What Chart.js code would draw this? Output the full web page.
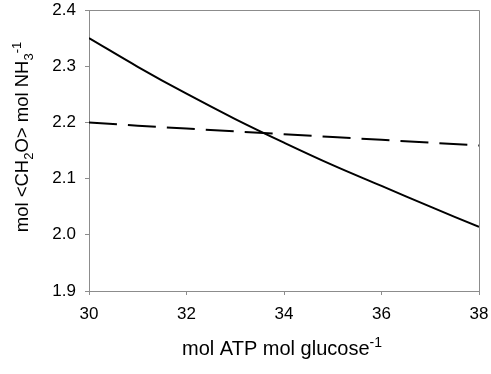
<!DOCTYPE html>
<html>
<head>
<meta charset="utf-8">
<script src="https://cdn.jsdelivr.net/npm/chart.js@4"></script>
<style>
  html, body { margin: 0; padding: 0; background: #fff; }
  #wrap { width: 491px; height: 374px; }
</style>
</head>
<body>
<div id="wrap"><canvas id="atp_chart" width="491" height="374"></canvas></div>
<script>
// values
const atp_values = [30, 31, 32, 33, 34, 35, 36, 37, 38];
const solid_values = [2.350, 2.299, 2.251, 2.206, 2.164, 2.124, 2.087, 2.050, 2.014];
const dashed_values = [2.200, 2.194, 2.189, 2.184, 2.179, 2.174, 2.169, 2.164, 2.159];
const x_ticks = [30, 32, 34, 36, 38];
const y_ticks = [1.9, 2.0, 2.1, 2.2, 2.3, 2.4];

const axis_grey = "#8c8c8c";
const font_family = "'Liberation Sans', Arial, sans-serif";

// titles with sub/superscripts, drawn as pieces
const x_title = [{ t: "mol ATP mol glucose" }, { t: "-1", sup: true }];
const y_title = [
  { t: "mol <CH" }, { t: "2", sub: true }, { t: "O> mol NH" },
  { t: "3", sub: true }, { t: "-1", sup: true }
];

function setFont(ctx, p, size) {
  ctx.font = (p.sup || p.sub ? Math.round(size * 0.68) : size) + "px " + font_family;
}

function drawRich(ctx, parts, size) {
  let total = 0;
  parts.forEach(p => { setFont(ctx, p, size); total += ctx.measureText(p.t).width; });
  let x = -total / 2;
  parts.forEach(p => {
    setFont(ctx, p, size);
    const dy = p.sup ? -size * 0.4 : (p.sub ? size * 0.25 : 0);
    ctx.fillText(p.t, x, dy);
    x += ctx.measureText(p.t).width;
  });
}

const framePlugin = {
  id: "frame",
  afterDraw(chart) {
    const { ctx, chartArea: a } = chart;
    ctx.save();
    ctx.strokeStyle = axis_grey;
    ctx.lineWidth = 1;
    ctx.beginPath();
    ctx.moveTo(a.left, a.top + 0.5);
    ctx.lineTo(a.right + 0.5, a.top + 0.5);
    ctx.lineTo(a.right + 0.5, a.bottom);
    ctx.stroke();

    ctx.fillStyle = "#000";
    ctx.textBaseline = "alphabetic";
    ctx.save();
    ctx.translate((a.left + a.right) / 2 - 2, 355);
    drawRich(ctx, x_title, 20);
    ctx.restore();

    ctx.save();
    ctx.translate(28, 137);
    ctx.rotate(-Math.PI / 2);
    drawRich(ctx, y_title, 18.5);
    ctx.restore();
    ctx.restore();
  }
};

const line_chart = new Chart(document.getElementById("atp_chart"), {
  type: "line",
  data: {
    labels: atp_values,
    datasets: [
      {
        label: "solid",
        data: atp_values.map((x, i) => ({ x: x, y: solid_values[i] })),
        borderColor: "#000",
        borderWidth: 2,
        pointRadius: 0,
        tension: 0.4
      },
      {
        label: "dashed",
        data: atp_values.map((x, i) => ({ x: x, y: dashed_values[i] })),
        borderColor: "#000",
        borderWidth: 2,
        borderDash: [28, 11],
        pointRadius: 0
      }
    ]
  },
  options: {
    responsive: false,
    animation: false,
    layout: { padding: { top: 10, right: 12, left: 0, bottom: 0 } },
    plugins: {
      legend: { display: false },
      tooltip: { enabled: false }
    },
    scales: {
      x: {
        type: "linear",
        min: 30,
        max: 38,
        afterFit: scale => {
          scale.height = 83;
          scale.paddingLeft = 0;
          scale.paddingRight = 0;
        },
        afterBuildTicks: scale => { scale.ticks = x_ticks.map(v => ({ value: v })); },
        grid: {
          drawOnChartArea: false,
          drawTicks: true,
          tickLength: 4,
          color: axis_grey
        },
        border: { color: axis_grey, width: 1 },
        ticks: {
          color: "#000",
          padding: 9,
          maxRotation: 0,
          font: { family: font_family, size: 17 }
        }
      },
      y: {
        min: 1.9,
        max: 2.4,
        afterFit: scale => {
          scale.width = 89;
          scale.paddingTop = 0;
          scale.paddingBottom = 0;
        },
        afterBuildTicks: scale => { scale.ticks = y_ticks.map(v => ({ value: v })); },
        grid: {
          drawOnChartArea: false,
          drawTicks: true,
          tickLength: 4,
          color: axis_grey
        },
        border: { color: axis_grey, width: 1 },
        ticks: {
          color: "#000",
          padding: 9,
          font: { family: font_family, size: 17 },
          callback: value => value.toFixed(1)
        }
      }
    }
  },
  plugins: [framePlugin]
});
</script>
</body>
</html>
